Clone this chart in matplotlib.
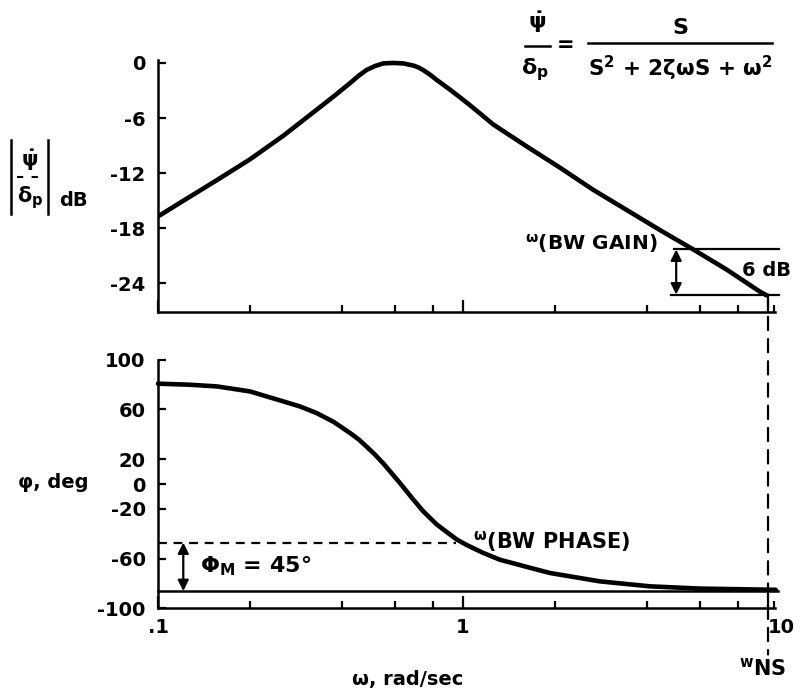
import matplotlib
matplotlib.use("Agg")
import matplotlib.pyplot as plt
from matplotlib.lines import Line2D
from matplotlib.patches import ConnectionPatch
from matplotlib.ticker import FixedLocator, NullFormatter, FixedFormatter

# ---- data ----
gain_freq = [0.1, 0.121, 0.156, 0.200, 0.258, 0.331, 0.376, 0.426, 0.454, 0.483,
             0.515, 0.548, 0.59, 0.637, 0.69, 0.715, 0.741, 0.78, 0.82, 0.906,
             0.978, 1.054, 1.257, 1.62, 2.08, 2.67, 3.44, 4.43, 5.69, 7.33,
             9.42, 9.91]
gain_db = [-16.7, -15.0, -12.75, -10.5, -7.9, -5.1, -3.66, -2.2, -1.41, -0.76,
           -0.33, -0.05, 0.0, -0.05, -0.3, -0.5, -0.78, -1.28, -1.85, -2.9,
           -3.75, -4.6, -6.7, -9.1, -11.4, -13.8, -16.0, -18.2, -20.3, -22.5,
           -24.9, -25.3]

phase_freq = [0.1, 0.126, 0.156, 0.2, 0.258, 0.292, 0.331, 0.376, 0.426, 0.455,
              0.483, 0.515, 0.548, 0.62, 0.687, 0.741, 0.82, 0.906, 0.953, 1.028,
              1.166, 1.32, 1.70, 1.93, 2.81, 4.1, 5.96, 10.6]
phase_deg = [80.6, 79.8, 78.4, 74.4, 66.3, 62.3, 57.0, 50.0, 41.0, 35.8,
             30.0, 23.5, 16.5, 1.0, -12.5, -22.0, -32.5, -40.5, -44.5, -49.0,
             -55.4, -60.8, -68.0, -71.5, -78.2, -82.2, -84.0, -85.0]

gain_yticks = [0, -6, -12, -18, -24]
phase_yticks = [100, 60, 20, 0, -20, -60, -100]
x_major = [0.1, 1, 10]
x_major_labels = [".1", "1", "10"]
x_minor = [0.2, 0.4, 0.6, 0.8, 2, 4, 6, 8, 10.45]

bw_gain_upper = -20.3
bw_gain_lower = -25.2
bw_gain_freq = 5.0
bw_phase_level = -47.0
phase_floor = -86.0
bw_phase_freq = 0.95
phase_arrow_freq = 0.121
w_ns = 10.0

XLIM = (0.1, 10.54)
W, H = 803, 691

plt.rcParams["font.family"] = ["DejaVu Sans"]
plt.rcParams["font.weight"] = "bold"
plt.rcParams["mathtext.fontset"] = "custom"
plt.rcParams["mathtext.rm"] = "DejaVu Sans:bold"
plt.rcParams["mathtext.it"] = "DejaVu Sans:bold"
plt.rcParams["mathtext.bf"] = "DejaVu Sans:bold"
plt.rcParams["mathtext.sf"] = "DejaVu Sans:bold"


def fx(px):
    return px / W


def fy(py):
    return 1 - py / H


fig = plt.figure(figsize=(8.03, 6.91), dpi=100)
ax1 = fig.add_axes([0.1968, 0.5485, 0.7683, 0.3644])
ax2 = fig.add_axes([0.1968, 0.1194, 0.7683, 0.3603])

LW_SPINE = 1.8
for ax in (ax1, ax2):
    ax.set_xscale("log")
    ax.set_xlim(*XLIM)
    for s in ("top", "right"):
        ax.spines[s].set_visible(False)
    for s in ("left", "bottom"):
        ax.spines[s].set_linewidth(LW_SPINE)
    ax.xaxis.set_major_locator(FixedLocator(x_major))
    ax.xaxis.set_minor_locator(FixedLocator(x_minor))
    ax.xaxis.set_minor_formatter(NullFormatter())
    ax.tick_params(axis="x", which="major", direction="in", length=9, width=1.6)
    ax.tick_params(axis="x", which="minor", direction="in", length=5, width=1.6)
    ax.tick_params(axis="y", direction="in", length=6, width=1.6, pad=9,
                   labelsize=14)

# ---- top: gain ----
ax1.plot(gain_freq, gain_db, color="black", lw=3.3, solid_capstyle="round",
         solid_joinstyle="round")
ax1.set_ylim(-27.1, 0.3)
ax1.set_yticks(gain_yticks)
ax1.set_yticklabels([str(v) for v in gain_yticks])
ax1.xaxis.set_major_formatter(NullFormatter())

ax1.plot([bw_gain_freq * 0.98, XLIM[1] * 1.03], [bw_gain_upper, bw_gain_upper],
         color="black", lw=1.6, clip_on=False)
ax1.plot([bw_gain_freq * 0.96, XLIM[1] * 1.03], [bw_gain_lower, bw_gain_lower],
         color="black", lw=1.6, clip_on=False)
ax1.annotate("", xy=(bw_gain_freq, bw_gain_upper), xytext=(bw_gain_freq, bw_gain_lower),
             arrowprops=dict(arrowstyle="<|-|>", color="black", lw=1.6,
                             mutation_scale=16, shrinkA=0, shrinkB=0))
ax1.text(4.36, -19.6, r"$^{\omega}$(BW GAIN)", ha="right", va="center", fontsize=14.5,
         fontweight="bold")
ax1.text(11.9, -22.6, "6 dB", ha="right", va="center", fontsize=14, fontweight="bold")

# ---- bottom: phase ----
ax2.plot(phase_freq, phase_deg, color="black", lw=3.3, solid_capstyle="round",
         solid_joinstyle="round", clip_on=False)
ax2.set_ylim(-100, 100)
ax2.set_yticks(phase_yticks)
ax2.set_yticklabels([str(v) for v in phase_yticks])
ax2.xaxis.set_major_formatter(FixedFormatter(x_major_labels))
ax2.tick_params(axis="x", which="major", labelsize=14, pad=7)
lbls = ax2.get_xticklabels()
lbls[-1].set_horizontalalignment("left")

ax2.plot([XLIM[0], XLIM[1] * 1.02], [phase_floor, phase_floor], color="black", lw=1.8,
         clip_on=False)
ax2.plot([XLIM[0], bw_phase_freq], [bw_phase_level, bw_phase_level], color="black",
         lw=1.6, ls=(0, (4, 3)))
ax2.annotate("", xy=(phase_arrow_freq, bw_phase_level), xytext=(phase_arrow_freq, phase_floor),
             arrowprops=dict(arrowstyle="<|-|>", color="black", lw=1.6,
                             mutation_scale=16, shrinkA=0, shrinkB=0))
ax2.text(0.137, -66, r"$\Phi_M$ = 45°", ha="left", va="center", fontsize=16,
         fontweight="bold")
ax2.text(1.08, -46.5, r"$^{\omega}$(BW PHASE)", ha="left", va="center", fontsize=15,
         fontweight="bold")

# vertical dashed line at w_NS spanning both axes
con = ConnectionPatch(xyA=(w_ns, bw_gain_lower), coordsA=ax1.transData,
                      xyB=(w_ns, -137), coordsB=ax2.transData,
                      color="black", lw=1.6, ls=(0, (6, 4)))
fig.add_artist(con)

# ---- y label of the gain plot: |psi_dot / delta_p| dB ----
for xp in (11, 48):
    fig.add_artist(Line2D([fx(xp), fx(xp)], [fy(140), fy(214)], color="black", lw=1.8))
fig.add_artist(Line2D([fx(17), fx(43)], [fy(177), fy(177)], color="black", lw=1.5,
                      ls=(0, (3, 4))))
fig.text(fx(30), fy(160), r"$\dot{\psi}$", ha="center", va="center", fontsize=15)
fig.text(fx(30), fy(198), r"$\delta_{\mathrm{p}}$", ha="center", va="center", fontsize=15)
fig.text(fx(73), fy(200), "dB", ha="center", va="center", fontsize=14, fontweight="bold")

fig.text(fx(53), fy(482), "φ, deg", ha="center", va="center", fontsize=14,
         fontweight="bold")
fig.text(fx(408), fy(680), "ω, rad/sec", ha="center", va="center", fontsize=14,
         fontweight="bold")
fig.text(fx(763), fy(668), r"$^{\mathrm{w}}$NS", ha="center", va="center", fontsize=15,
         fontweight="bold")

# ---- transfer function ----
fig.text(fx(537), fy(22), r"$\dot{\psi}$", ha="center", va="center", fontsize=16)
fig.add_artist(Line2D([fx(525), fx(550)], [fy(46), fy(46)], color="black", lw=1.8))
fig.text(fx(535), fy(70), r"$\delta_{\mathrm{p}}$", ha="center", va="center", fontsize=16)
fig.text(fx(566), fy(45), "=", ha="center", va="center", fontsize=15, fontweight="bold")
fig.text(fx(680), fy(28), "S", ha="center", va="center", fontsize=16, fontweight="bold")
fig.add_artist(Line2D([fx(588), fx(772)], [fy(43), fy(43)], color="black", lw=1.8))
fig.text(fx(680), fy(68), r"S$^{2}$ + 2ζωS + ω$^{2}$", ha="center", va="center",
         fontsize=15.5, fontweight="bold")

fig.savefig("out.png", dpi=100)
